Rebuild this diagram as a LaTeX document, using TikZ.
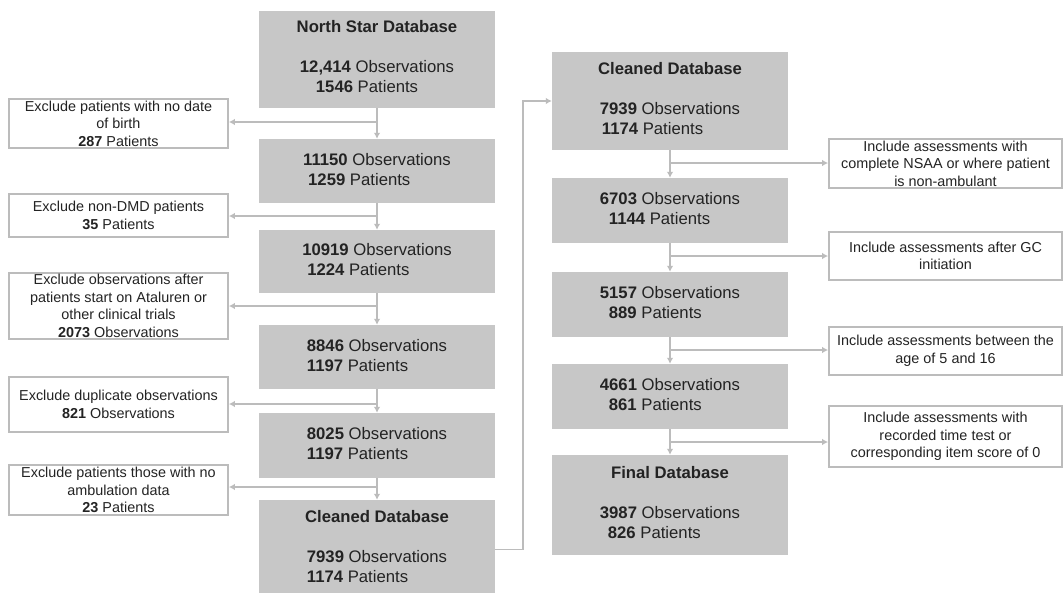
\documentclass[tikz,border=0pt]{standalone}
\usepackage{fontspec}
\setmainfont{Liberation Sans}
\usetikzlibrary{arrows.meta,fit}
\definecolor{boxgray}{RGB}{199,199,199}
\definecolor{linegray}{RGB}{188,188,188}
\definecolor{txt}{RGB}{35,35,35}
\newcommand\cnt[3]{\begin{tabular}[t]{@{}l@{}}\textbf{#1} Observations\\\hspace*{#3}\textbf{#2} Patients\end{tabular}}
\begin{document}
\begin{tikzpicture}[x=1pt,y=-1pt,
  gbox/.style={fill=boxgray, inner sep=0pt},
  wbox/.style={draw=linegray, line width=1.8pt, fill=white, inner sep=0pt},
  gtext/.style={align=center, inner sep=0pt, font=\fontsize{16.7}{20}\selectfont, text=txt},
  wtext/.style={align=center, inner sep=0pt, font=\fontsize{14.4}{17.6}\selectfont, text=txt},
  ln/.style={draw=linegray, line width=1.8pt},
  arr/.style={ln, -{Latex[length=6pt,width=6.5pt]}}]
\useasboundingbox (0,0) rectangle (1064,592);
\fill[white] (0,0) rectangle (1064,592);
% left column
\node[gbox, fit={(259,11) (495,108)}] (L1) {};
\node[gtext] (L1t) at (L1.center) {\textbf{North Star Database}\\[20pt]\cnt{12,414}{1546}{16pt}};
\node[gbox, fit={(259,139) (495,203)}] (L2) {};
\node[gtext] (L2t) at (L2.center) {\cnt{11150}{1259}{5pt}};
\node[gbox, fit={(259,230) (495,293)}] (L3) {};
\node[gtext] (L3t) at (L3.center) {\cnt{10919}{1224}{5pt}};
\node[gbox, fit={(259,325) (495,389)}] (L4) {};
\node[gtext] (L4t) at (L4.center) {\cnt{8846}{1197}{0pt}};
\node[gbox, fit={(259,413) (495,478)}] (L5) {};
\node[gtext] (L5t) at (L5.center) {\cnt{8025}{1197}{0pt}};
\node[gbox, fit={(259,500) (495,599)}] (L6) {};
\node[gtext] (L6t) at (L6.center) {\textbf{Cleaned Database}\\[20pt]\cnt{7939}{1174}{0pt}};
% left exclusion boxes
\node[wbox, fit={(9,99) (228,148)}] (W1) {};
\node[wtext] (W1t) at (W1.center) {Exclude patients with no date\\of birth\\\textbf{287} Patients};
\node[wbox, fit={(9,194) (228,237)}] (W2) {};
\node[wtext] (W2t) at (W2.center) {Exclude non-DMD patients\\\textbf{35} Patients};
\node[wbox, fit={(9,273) (228,339)}] (W3) {};
\node[wtext] (W3t) at (W3.center) {Exclude observations after\\patients start on Ataluren or\\other clinical trials\\\textbf{2073} Observations};
\node[wbox, fit={(9,377) (228,432)}] (W4) {};
\node[wtext] (W4t) at (W4.center) {Exclude duplicate observations\\\textbf{821} Observations};
\node[wbox, fit={(9,465) (228,515)}] (W5) {};
\node[wtext] (W5t) at (W5.center) {Exclude patients those with no\\ambulation data\\\textbf{23} Patients};
% middle column
\node[gbox, fit={(552,52) (788,150)}] (M1) {};
\node[gtext] (M1t) at (M1.center) {\textbf{Cleaned Database}\\[20pt]\cnt{7939}{1174}{2pt}};
\node[gbox, fit={(552,178) (788,243)}] (M2) {};
\node[gtext] (M2t) at (M2.center) {\cnt{6703}{1144}{9pt}};
\node[gbox, fit={(552,272) (788,337)}] (M3) {};
\node[gtext] (M3t) at (M3.center) {\cnt{5157}{889}{9pt}};
\node[gbox, fit={(552,364) (788,429)}] (M4) {};
\node[gtext] (M4t) at (M4.center) {\cnt{4661}{861}{9pt}};
\node[gbox, fit={(552,455) (788,555)}] (M5) {};
\node[gtext] (M5t) at (M5.center) {\textbf{Final Database}\\[20pt]\cnt{3987}{826}{8pt}};
% right inclusion boxes
\node[wbox, fit={(829,139) (1062,188)}] (R1) {};
\node[wtext] (R1t) at (R1.center) {Include assessments with\\complete NSAA or where patient\\is non-ambulant};
\node[wbox, fit={(829,232) (1062,280)}] (R2) {};
\node[wtext] (R2t) at (R2.center) {Include assessments after GC\\initiation};
\node[wbox, fit={(829,327) (1062,375)}] (R3) {};
\node[wtext] (R3t) at (R3.center) {Include assessments between the\\age of 5 and 16};
\node[wbox, fit={(829,406) (1062,467)}] (R4) {};
\node[wtext] (R4t) at (R4.center) {Include assessments with\\recorded time test or\\corresponding item score of 0};
% left connectors
\draw[arr] (L1) -- (L2);
\draw[arr] (L2) -- (L3);
\draw[arr] (L3) -- (L4);
\draw[arr] (L4) -- (L5);
\draw[arr] (L5) -- (L6);
\coordinate (bL1) at (377,122);
\coordinate (bL2) at (377,216);
\coordinate (bL3) at (377,306);
\coordinate (bL4) at (377,404);
\coordinate (bL5) at (377,487);
\draw[arr] (bL1) -- (bL1 -| W1.east);
\draw[arr] (bL2) -- (bL2 -| W2.east);
\draw[arr] (bL3) -- (bL3 -| W3.east);
\draw[arr] (bL4) -- (bL4 -| W4.east);
\draw[arr] (bL5) -- (bL5 -| W5.east);
% link to middle column
\draw[arr] (L6.east) -- ++(28,0) |- (M1.west);
% middle connectors
\draw[arr] (M1) -- (M2);
\draw[arr] (M2) -- (M3);
\draw[arr] (M3) -- (M4);
\draw[arr] (M4) -- (M5);
\coordinate (bM1) at (670,163);
\coordinate (bM2) at (670,256);
\coordinate (bM3) at (670,350);
\coordinate (bM4) at (670,442);
\draw[arr] (bM1) -- (bM1 -| R1.west);
\draw[arr] (bM2) -- (bM2 -| R2.west);
\draw[arr] (bM3) -- (bM3 -| R3.west);
\draw[arr] (bM4) -- (bM4 -| R4.west);
\end{tikzpicture}
\end{document}
